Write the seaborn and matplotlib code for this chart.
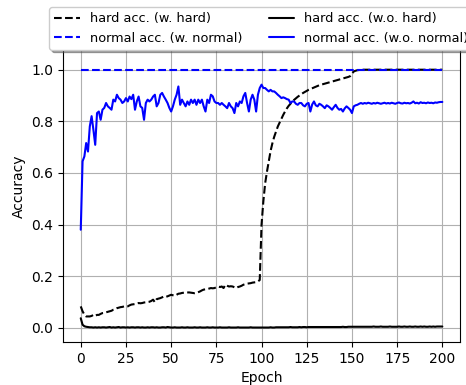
import numpy as np
import pandas as pd
import matplotlib
matplotlib.use("Agg")
import matplotlib.pyplot as plt
import seaborn as sns

epochs = list(range(0, 201))

hard_w_hard = [
    0.083, 0.064, 0.051, 0.044, 0.044, 0.044, 0.046, 0.050, 0.046, 0.050,
    0.050, 0.054, 0.057, 0.058, 0.060, 0.062, 0.064, 0.066, 0.070, 0.072,
    0.076, 0.078, 0.080, 0.081, 0.083, 0.082, 0.083, 0.087, 0.090, 0.091,
    0.092, 0.094, 0.096, 0.095, 0.096, 0.098, 0.099, 0.100, 0.101, 0.104,
    0.109, 0.099, 0.111, 0.113, 0.115, 0.118, 0.122, 0.120, 0.122, 0.125,
    0.128, 0.126, 0.124, 0.128, 0.132, 0.133, 0.135, 0.136, 0.137, 0.137,
    0.137, 0.136, 0.135, 0.134, 0.135, 0.138, 0.141, 0.145, 0.148, 0.149,
    0.150, 0.152, 0.154, 0.153, 0.154, 0.157, 0.160, 0.158, 0.160, 0.154,
    0.167, 0.163, 0.160, 0.161, 0.160, 0.157, 0.154, 0.158, 0.160, 0.163,
    0.167, 0.169, 0.171, 0.172, 0.173, 0.175, 0.176, 0.177, 0.180, 0.185,
    0.400, 0.490, 0.560, 0.605, 0.645, 0.685, 0.715, 0.740, 0.760, 0.780,
    0.795, 0.810, 0.825, 0.838, 0.850, 0.860, 0.868, 0.876, 0.883, 0.889,
    0.895, 0.900, 0.905, 0.910, 0.914, 0.918, 0.922, 0.925, 0.928, 0.931,
    0.934, 0.937, 0.940, 0.942, 0.944, 0.946, 0.948, 0.950, 0.952, 0.954,
    0.956, 0.958, 0.960, 0.962, 0.964, 0.966, 0.968, 0.970, 0.972, 0.975,
    0.985, 0.993, 0.996, 0.998, 0.999, 1.000, 1.000, 1.000, 1.000, 1.000,
    1.000, 1.000, 1.000, 1.000, 1.000, 1.000, 1.000, 1.000, 1.000, 1.000,
    1.000, 1.000, 1.000, 1.000, 1.000, 1.000, 1.000, 1.000, 1.000, 1.000,
    1.000, 1.000, 1.000, 1.000, 1.000, 1.000, 1.000, 1.000, 1.000, 1.000,
    1.000, 1.000, 1.000, 1.000, 1.000, 1.000, 1.000, 1.000, 1.000, 1.000,
    1.000,
]

normal_w_normal = [
    1.0, 1.0, 1.0, 1.0, 1.0, 1.0, 1.0, 1.0, 1.0, 1.0,
    1.0, 1.0, 1.0, 1.0, 1.0, 1.0, 1.0, 1.0, 1.0, 1.0,
    1.0, 1.0, 1.0, 1.0, 1.0, 1.0, 1.0, 1.0, 1.0, 1.0,
    1.0, 1.0, 1.0, 1.0, 1.0, 1.0, 1.0, 1.0, 1.0, 1.0,
    1.0, 1.0, 1.0, 1.0, 1.0, 1.0, 1.0, 1.0, 1.0, 1.0,
    1.0, 1.0, 1.0, 1.0, 1.0, 1.0, 1.0, 1.0, 1.0, 1.0,
    1.0, 1.0, 1.0, 1.0, 1.0, 1.0, 1.0, 1.0, 1.0, 1.0,
    1.0, 1.0, 1.0, 1.0, 1.0, 1.0, 1.0, 1.0, 1.0, 1.0,
    1.0, 1.0, 1.0, 1.0, 1.0, 1.0, 1.0, 1.0, 1.0, 1.0,
    1.0, 1.0, 1.0, 1.0, 1.0, 1.0, 1.0, 1.0, 1.0, 1.0,
    1.0, 1.0, 1.0, 1.0, 1.0, 1.0, 1.0, 1.0, 1.0, 1.0,
    1.0, 1.0, 1.0, 1.0, 1.0, 1.0, 1.0, 1.0, 1.0, 1.0,
    1.0, 1.0, 1.0, 1.0, 1.0, 1.0, 1.0, 1.0, 1.0, 1.0,
    1.0, 1.0, 1.0, 1.0, 1.0, 1.0, 1.0, 1.0, 1.0, 1.0,
    1.0, 1.0, 1.0, 1.0, 1.0, 1.0, 1.0, 1.0, 1.0, 1.0,
    1.0, 1.0, 1.0, 1.0, 1.0, 1.0, 1.0, 1.0, 1.0, 1.0,
    1.0, 1.0, 1.0, 1.0, 1.0, 1.0, 1.0, 1.0, 1.0, 1.0,
    1.0, 1.0, 1.0, 1.0, 1.0, 1.0, 1.0, 1.0, 1.0, 1.0,
    1.0, 1.0, 1.0, 1.0, 1.0, 1.0, 1.0, 1.0, 1.0, 1.0,
    1.0, 1.0, 1.0, 1.0, 1.0, 1.0, 1.0, 1.0, 1.0, 1.0,
    1.0,
]

hard_wo_hard = [
    0.037, 0.012, 0.006, 0.004, 0.003, 0.002, 0.002, 0.001, 0.002, 0.001,
    0.002, 0.001, 0.002, 0.002, 0.001, 0.002, 0.003, 0.001, 0.002, 0.001,
    0.002, 0.003, 0.001, 0.002, 0.002, 0.001, 0.002, 0.001, 0.002, 0.002,
    0.001, 0.002, 0.002, 0.001, 0.002, 0.001, 0.001, 0.002, 0.001, 0.002,
    0.002, 0.001, 0.002, 0.001, 0.001, 0.002, 0.002, 0.001, 0.003, 0.002,
    0.001, 0.001, 0.002, 0.001, 0.001, 0.001, 0.002, 0.001, 0.001, 0.002,
    0.001, 0.001, 0.001, 0.002, 0.001, 0.001, 0.002, 0.001, 0.001, 0.001,
    0.002, 0.001, 0.001, 0.002, 0.001, 0.001, 0.001, 0.002, 0.001, 0.001,
    0.001, 0.001, 0.002, 0.001, 0.001, 0.001, 0.001, 0.002, 0.001, 0.001,
    0.001, 0.001, 0.001, 0.001, 0.002, 0.001, 0.001, 0.001, 0.001, 0.001,
    0.001, 0.001, 0.001, 0.001, 0.001, 0.002, 0.001, 0.001, 0.002, 0.002,
    0.002, 0.002, 0.002, 0.002, 0.002, 0.002, 0.003, 0.002, 0.002, 0.002,
    0.002, 0.003, 0.002, 0.003, 0.003, 0.002, 0.003, 0.003, 0.003, 0.003,
    0.003, 0.003, 0.003, 0.003, 0.003, 0.003, 0.003, 0.003, 0.003, 0.003,
    0.003, 0.003, 0.003, 0.003, 0.003, 0.004, 0.003, 0.003, 0.004, 0.004,
    0.004, 0.004, 0.004, 0.004, 0.004, 0.004, 0.004, 0.004, 0.004, 0.004,
    0.004, 0.004, 0.005, 0.004, 0.004, 0.004, 0.005, 0.004, 0.004, 0.004,
    0.004, 0.005, 0.004, 0.004, 0.004, 0.004, 0.005, 0.004, 0.004, 0.005,
    0.004, 0.004, 0.005, 0.004, 0.004, 0.005, 0.004, 0.004, 0.005, 0.004,
    0.005, 0.004, 0.004, 0.005, 0.004, 0.005, 0.004, 0.005, 0.005, 0.005,
    0.005,
]

normal_wo_normal = [
    0.380, 0.645, 0.664, 0.716, 0.683, 0.780, 0.820, 0.767, 0.709, 0.832,
    0.838, 0.806, 0.845, 0.852, 0.871, 0.858, 0.852, 0.845, 0.884, 0.877,
    0.903, 0.890, 0.884, 0.871, 0.877, 0.890, 0.877, 0.896, 0.886, 0.903,
    0.845, 0.877, 0.896, 0.858, 0.852, 0.806, 0.871, 0.884, 0.877, 0.884,
    0.896, 0.903, 0.858, 0.871, 0.903, 0.910, 0.896, 0.884, 0.871, 0.852,
    0.838, 0.858, 0.884, 0.903, 0.935, 0.864, 0.884, 0.871, 0.858, 0.877,
    0.864, 0.884, 0.871, 0.884, 0.864, 0.884, 0.871, 0.884, 0.858, 0.838,
    0.884, 0.871, 0.903, 0.897, 0.877, 0.871, 0.871, 0.864, 0.871, 0.864,
    0.858, 0.851, 0.871, 0.858, 0.851, 0.832, 0.871, 0.858, 0.877, 0.871,
    0.897, 0.910, 0.871, 0.838, 0.884, 0.903, 0.884, 0.838, 0.903, 0.929,
    0.942, 0.929, 0.929, 0.922, 0.916, 0.922, 0.916, 0.916, 0.910, 0.903,
    0.897, 0.890, 0.893, 0.890, 0.886, 0.884, 0.871, 0.877, 0.877, 0.868,
    0.864, 0.871, 0.871, 0.862, 0.858, 0.868, 0.871, 0.838, 0.865, 0.877,
    0.862, 0.858, 0.868, 0.864, 0.858, 0.851, 0.862, 0.858, 0.852, 0.845,
    0.855, 0.864, 0.852, 0.845, 0.848, 0.838, 0.850, 0.858, 0.852, 0.845,
    0.832, 0.858, 0.862, 0.864, 0.868, 0.871, 0.868, 0.871, 0.869, 0.872,
    0.870, 0.868, 0.871, 0.869, 0.872, 0.870, 0.868, 0.870, 0.872, 0.869,
    0.871, 0.869, 0.872, 0.870, 0.868, 0.871, 0.873, 0.870, 0.869, 0.872,
    0.870, 0.871, 0.869, 0.872, 0.877, 0.870, 0.872, 0.869, 0.874, 0.871,
    0.872, 0.870, 0.873, 0.871, 0.872, 0.870, 0.873, 0.872, 0.874, 0.875,
    0.875,
]

labels = [
    "hard acc. (w. hard)",
    "normal acc. (w. normal)",
    "hard acc. (w.o. hard)",
    "normal acc. (w.o. normal)",
]

sns.set_style("ticks", {
    "axes.grid": True,
    "grid.color": "#b0b0b0",
    "axes.edgecolor": "black",
    "xtick.color": "black",
    "ytick.color": "black",
    "text.color": "black",
    "axes.labelcolor": "black",
})
plt.rcParams["font.family"] = ["DejaVu Sans"]
plt.rcParams["font.size"] = 10
plt.rcParams["grid.linewidth"] = 0.8

ax_left, ax_right = 0.1345, 0.988
fig = plt.figure(figsize=(4.66, 3.85), dpi=100)
ax = fig.add_axes([ax_left, 0.1117, ax_right - ax_left, 0.9195 - 0.1117])

series = [
    (hard_w_hard, "black", "--", labels[0]),
    (normal_w_normal, "blue", "--", labels[1]),
    (hard_wo_hard, "black", "-", labels[2]),
    (normal_wo_normal, "blue", "-", labels[3]),
]
for vals, col, ls, lab in series:
    sns.lineplot(x=epochs, y=vals, color=col, linestyle=ls, linewidth=1.5,
                 label=lab, ax=ax, legend=False)

ax.set_xlim(-10, 210)
ax.set_ylim(-0.055, 1.15)
ax.set_xticks([0, 25, 50, 75, 100, 125, 150, 175, 200])
ax.set_yticks([0.0, 0.2, 0.4, 0.6, 0.8, 1.0])
ax.set_xlabel("Epoch", fontsize=10)
ax.set_ylabel("Accuracy", fontsize=10)
ax.tick_params(labelsize=10)
for s in ax.spines.values():
    s.set_visible(True)
    s.set_color("black")

handles, labs = ax.get_legend_handles_labels()
leg = ax.legend(handles, labs, loc="upper center", ncol=2, fontsize=9.25,
                bbox_to_anchor=((ax_left + ax_right) / 2, 1 - 7 / 385),
                bbox_transform=fig.transFigure,
                borderaxespad=0, shadow=True, fancybox=True, framealpha=1)
leg.get_frame().set_edgecolor("#cccccc")

fig.savefig("out.png", dpi=100)
